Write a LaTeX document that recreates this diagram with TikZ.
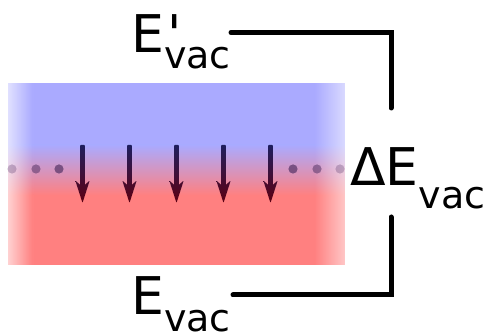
\documentclass[tikz,border=0pt]{standalone}
\usepackage{fontspec}
\newfontfamily\labfont{DejaVu Sans}
\definecolor{bl}{HTML}{AAAAFF}
\definecolor{rd}{HTML}{FF8080}
\definecolor{arrtop}{HTML}{1E1E5E}
\definecolor{arrbot}{HTML}{5E0012}
\definecolor{dotc}{HTML}{553366}
\tikzset{
  lab/.style={anchor=base west, inner sep=0pt, font=\labfont\fontsize{52}{52}\selectfont},
  bracket/.style={line width=5pt, line cap=round, line join=miter},
  dot/.style={fill=dotc},
  arr/.style={top color=arrtop, bottom color=arrbot, rounded corners=0.8pt}
}
\newcommand{\subvac}[1]{\raisebox{-#1}{\fontsize{38}{38}\selectfont vac}}
\begin{document}
\begin{tikzpicture}[x=1pt,y=-1pt]
\useasboundingbox (0,0) rectangle (488,336);
% slab: central part
\fill[bl] (32,83) rectangle (316,145);
\shade[top color=bl, bottom color=rd] (32,145) rectangle (316,195);
\fill[rd] (32,195) rectangle (316,265);
% left fade
\foreach \i in {0,...,24} {
  \pgfmathsetmacro{\p}{35+65*(\i+0.5)/25}
  \pgfmathsetmacro{\xa}{8+\i}
  \fill[bl!\p!white] (\xa,83) rectangle (\xa+1.5,145);
  \shade[top color=bl!\p!white, bottom color=rd!\p!white] (\xa,145) rectangle (\xa+1.5,195);
  \fill[rd!\p!white] (\xa,195) rectangle (\xa+1.5,265);
}
% right fade
\foreach \i in {0,...,29} {
  \pgfmathsetmacro{\p}{100-55*(\i+0.5)/30}
  \pgfmathsetmacro{\xa}{315+\i}
  \fill[bl!\p!white] (\xa,83) rectangle (\xa+1.5,145);
  \shade[top color=bl!\p!white, bottom color=rd!\p!white] (\xa,145) rectangle (\xa+1.5,195);
  \fill[rd!\p!white] (\xa,195) rectangle (\xa+1.5,265);
}
\fill[white] (345,80) rectangle (348,268);
% dots
\fill[dot, opacity=0.3] (12,169) circle (4.6);
\fill[dot, opacity=0.55] (36,169) circle (4.6);
\fill[dot, opacity=0.7] (59,169) circle (4.6);
\fill[dot, opacity=0.7] (293,169) circle (4.6);
\fill[dot, opacity=0.55] (317,169) circle (4.6);
\fill[dot, opacity=0.3] (340,169) circle (4.6);
% arrows
\foreach \x in {82.5,129.5,176.5,223.5,270.5} {
  \shade[arr] (\x-2.3,145) -- (\x+2.3,145) -- (\x+2.3,185) -- (\x+7.2,180.5) -- (\x,203)
    -- (\x-7.2,180.5) -- (\x-2.3,185) -- cycle;
}
% labels
\node[lab] (etop) at (131,53) {E\rlap{\kern3pt'}\subvac{16pt}};
\node[lab] (ebot) at (131,315) {E\subvac{17pt}};
\node[lab] (dE) at (350,186) {ΔE\subvac{23pt}};
% bracket
\coordinate (t1) at (231,32.5);
\coordinate (t2) at (391,32.5);
\coordinate (t3) at (391,108);
\coordinate (b1) at (391,217);
\coordinate (b2) at (391,295);
\coordinate (b3) at (233,295);
\draw[bracket] (t1) -- (t2) -- (t3);
\draw[bracket] (b1) -- (b2) -- (b3);
\end{tikzpicture}
\end{document}
